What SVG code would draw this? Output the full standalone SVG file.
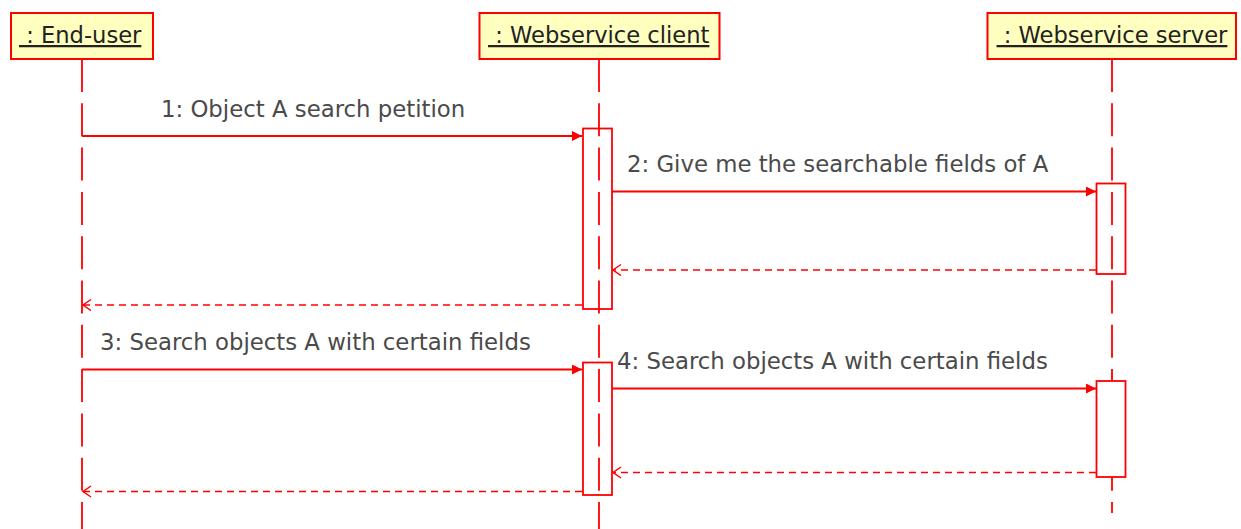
<svg xmlns="http://www.w3.org/2000/svg" width="1241" height="529" viewBox="0 0 1241 529">
  <style>
    .head { fill: #ffffc0; stroke: #ff0000; stroke-width: 2; }
    .htext { font-family: "DejaVu Sans", sans-serif; font-size: 22.6px; fill: #222222; text-decoration: underline; }
    .life { stroke: #ff0000; stroke-width: 1.8; stroke-dasharray: 33 11.3; fill: none; }
    .act { fill: none; stroke: #ff0000; stroke-width: 1.8; }
    .actw { fill: #ffffff; stroke: #ff0000; stroke-width: 1.8; }
    .msg { stroke: #ff0000; stroke-width: 1.8; fill: none; marker-end: url(#filled); }
    .ret { stroke: #ff0000; stroke-width: 1.5; fill: none; stroke-dasharray: 7 5; marker-end: url(#open); }
    .label { font-family: "DejaVu Sans", sans-serif; font-size: 22.8px; fill: #4a4a4a; }
  </style>
  <defs>
    <marker id="filled" markerUnits="userSpaceOnUse" markerWidth="12" markerHeight="12" refX="10" refY="5" orient="auto">
      <path d="M0,0 L10,5 L0,10 z" fill="#ff0000" stroke="none"/>
    </marker>
    <marker id="open" markerUnits="userSpaceOnUse" markerWidth="12" markerHeight="14" refX="9" refY="6" orient="auto">
      <path d="M1,0.5 L9,6 L1,11.5" fill="none" stroke="#ff0000" stroke-width="1.5" stroke-dasharray="none"/>
    </marker>
  </defs>
  <rect width="1241" height="529" fill="#ffffff"/>

  <g id="end-user">
    <line class="life" x1="82" y1="59" x2="82" y2="529"/>
    <rect class="head" x="11" y="13" width="142" height="46"/>
    <text class="htext" x="19" y="43" xml:space="preserve"> : End-user</text>
  </g>

  <g id="webservice-client">
    <line class="life" x1="599" y1="59" x2="599" y2="529"/>
    <rect class="head" x="479.5" y="13" width="240" height="46"/>
    <text class="htext" x="488" y="43" xml:space="preserve"> : Webservice client</text>
    <rect class="act" x="583" y="128.5" width="29" height="180.5"/>
    <rect class="act" x="583" y="362.5" width="29" height="132.5"/>
  </g>

  <g id="webservice-server">
    <line class="life" x1="1112" y1="59" x2="1112" y2="513"/>
    <rect class="head" x="987.5" y="13" width="248.5" height="46"/>
    <text class="htext" x="996.5" y="43" xml:space="preserve"> : Webservice server</text>
    <rect class="act" x="1096.5" y="183.5" width="29" height="90.5"/>
    <rect class="actw" x="1096.5" y="381" width="29" height="96"/>
  </g>

  <g id="connectors">
    <line class="msg" x1="82" y1="136" x2="582" y2="136"/>
    <text class="label" x="161" y="117">1: Object A search petition</text>

    <line class="msg" x1="612" y1="191.5" x2="1096" y2="191.5"/>
    <text class="label" x="627" y="172">2: Give me the searchable fields of A</text>

    <line class="ret" x1="1096" y1="270" x2="613" y2="270"/>
    <line class="ret" x1="582" y1="305" x2="83" y2="305"/>

    <line class="msg" x1="82" y1="369.5" x2="582" y2="369.5"/>
    <text class="label" x="100" y="350">3: Search objects A with certain fields</text>

    <line class="msg" x1="612" y1="388.5" x2="1096" y2="388.5"/>
    <text class="label" x="617" y="369">4: Search objects A with certain fields</text>

    <line class="ret" x1="1096" y1="472.5" x2="613" y2="472.5"/>
    <line class="ret" x1="582" y1="491.5" x2="83" y2="491.5"/>
  </g>
</svg>
